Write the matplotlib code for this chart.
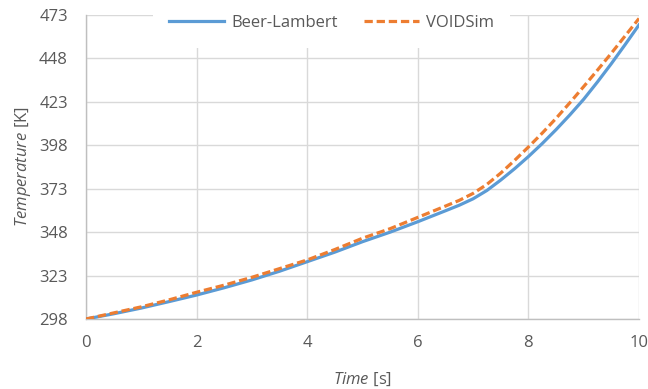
import matplotlib
matplotlib.use("Agg")
import matplotlib.pyplot as plt

plt.rcParams['font.family'] = ['Open Sans', 'DejaVu Sans']
plt.rcParams['mathtext.fontset'] = 'custom'
plt.rcParams['mathtext.it'] = 'Open Sans:italic'
plt.rcParams['mathtext.rm'] = 'Open Sans'

time_s = [0, 0.5, 1, 1.5, 2, 2.5, 3, 3.5, 4, 4.5, 5, 5.5, 6, 6.5, 6.75, 7, 7.25, 7.5, 7.75,
          8, 8.25, 8.5, 8.75, 9, 9.25, 9.5, 9.75, 10]
beer_lambert = [298, 301, 304.3, 308, 311.8, 316, 320.5, 325.5, 331, 336.5, 342.5, 348, 354,
                360.3, 363.5, 367.2, 372, 378, 384.5, 391.5, 399, 407, 415.5, 424.5, 434.5,
                445, 456, 467.3]
voidsim = [298, 301.5, 305, 309, 313.4, 317.5, 322, 327, 332, 338, 344.5, 350, 356.5,
           363, 366.3, 370.3, 375.5, 382, 389.3, 397, 405, 413.5, 422.5, 431.8, 441.3,
           451, 461, 471]

x_ticks = [0, 2, 4, 6, 8, 10]
y_ticks = [298, 323, 348, 373, 398, 423, 448, 473]

fig = plt.figure(figsize=(6.48, 3.89), dpi=100)
ax = fig.add_axes([86/648, 1-319/389, (639-86)/648, (319-15)/389])

ax.plot(time_s, beer_lambert, color='#5B9BD5', lw=2.3, label='Beer-Lambert', zorder=3)
ax.plot(time_s, voidsim, color='#ED7D31', lw=2.3, dashes=(2.6, 1.2), label='VOIDSim', zorder=4)

ax.set_xlim(0, 10)
ax.set_ylim(298, 473)
ax.set_xticks(x_ticks)
ax.set_yticks(y_ticks)
ax.grid(True, color='#d9d9d9', lw=1.0)
ax.set_axisbelow(True)
for s in ['top', 'right']:
    ax.spines[s].set_visible(False)
for s in ['left', 'bottom']:
    ax.spines[s].set_color('#bfbfbf')
    ax.spines[s].set_linewidth(1.0)
ax.tick_params(length=0, labelsize=12, labelcolor='#595959')
ax.tick_params(axis='y', pad=13)
ax.tick_params(axis='x', pad=11.5)
ax.set_xlabel(r'$\mathit{Time}$ [s]', fontsize=12, color='#595959', labelpad=14)
ax.set_ylabel(r'$\mathit{Temperature}$ [K]', fontsize=12, color='#595959', labelpad=4.5)

leg = ax.legend(loc='center', bbox_to_anchor=(0.444, 1.0 - 8/304), ncol=2, frameon=True,
                fontsize=12, handlelength=3.3, columnspacing=1.6, handletextpad=0.4,
                borderpad=1.0, fancybox=False)
leg.get_frame().set_facecolor('white')
leg.get_frame().set_edgecolor('none')
leg.get_frame().set_alpha(1.0)
for t in leg.get_texts():
    t.set_color('#595959')

fig.savefig('out.png', dpi=100)
